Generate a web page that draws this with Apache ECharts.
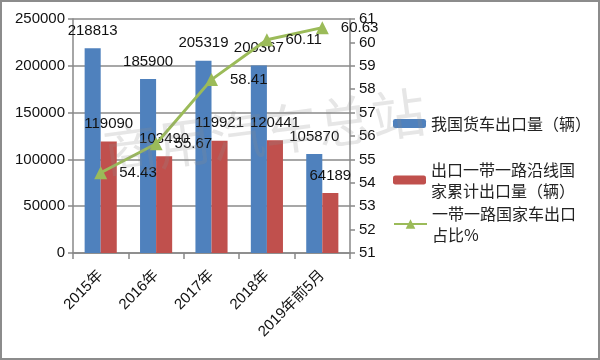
<!DOCTYPE html>
<html><head><meta charset="utf-8">
<script src="https://cdn.jsdelivr.net/npm/echarts@6/dist/echarts.min.js"></script>
<style>html,body{margin:0;padding:0;background:#fff}#c{width:600px;height:360px}</style>
</head><body><div id="c"></div>
<script>
const categories = ['2015年','2016年','2017年','2018年','2019年前5月'];
const truckExports = [218813,185900,205319,200367,105870];
const beltRoadExports = [119090,103490,119921,120441,64189];
const beltRoadShare = [54.43,55.67,58.41,60.11,60.63];
const leftTicks = {min:0,max:250000,interval:50000};
const rightTicks = {min:51,max:61,interval:1};
const names = ['我国货车出口量（辆）','出口一带一路沿线国家累计出口量（辆）','一带一路国家车出口占比%'];

const FONT = 'Liberation Sans, Noto Sans CJK SC, sans-serif';
const CJK = 'Noto Sans CJK SC, sans-serif';
const chart = echarts.init(document.getElementById('c'));
const legendBase = {orient:'vertical',left:393,padding:0,itemWidth:33,itemHeight:9,selectedMode:false,
  textStyle:{fontFamily:CJK,fontSize:16,color:'#222',lineHeight:21}};
chart.setOption({
  animation:false,
  backgroundColor:'#fff',
  graphic:[
    {type:'rect',shape:{x:1,y:1,width:598,height:358},style:{fill:'none',stroke:'#8c8c8c',lineWidth:2},z:100},
    {type:'text',x:100,y:126,rotation:0.13,style:{text:'商用汽车总站',font:'54px Noto Sans CJK SC',fill:'rgba(140,140,140,0.22)',textVerticalAlign:'top'},z:100}
  ],
  legend:[
    Object.assign({},legendBase,{top:113,data:[names[0]],formatter:()=> '我国货车出口量（辆）'}),
    Object.assign({},legendBase,{top:159,data:[names[1]],formatter:()=> '出口一带一路沿线国\n家累计出口量（辆）'}),
    Object.assign({},legendBase,{top:203,data:[names[2]],itemHeight:12,formatter:()=> '一带一路国家车出口\n占比%'})
  ],
  grid:{left:73,right:250,top:19,bottom:107},
  xAxis:{type:'category',data:categories,
    axisLine:{lineStyle:{color:'#888',width:1.5}},
    axisTick:{show:true,length:6,lineStyle:{color:'#888',width:1.5}},
    axisLabel:{rotate:45,fontFamily:FONT,fontSize:15,color:'#111',margin:20}},
  yAxis:[
    {type:'value',min:leftTicks.min,max:leftTicks.max,interval:leftTicks.interval,
      axisLine:{show:true,lineStyle:{color:'#888',width:1.5}},
      axisTick:{show:true,length:5,lineStyle:{color:'#888',width:1.5}},
      splitLine:{lineStyle:{color:'#8a8a8a',width:1.5}},
      axisLabel:{fontFamily:FONT,fontSize:15,color:'#111',margin:8,formatter:v=>String(v)}},
    {type:'value',min:rightTicks.min,max:rightTicks.max,interval:rightTicks.interval,position:'right',
      axisLine:{show:true,lineStyle:{color:'#888',width:1.5}},
      axisTick:{show:true,length:5,lineStyle:{color:'#888',width:1.5}},
      splitLine:{show:false},
      axisLabel:{fontFamily:FONT,fontSize:15,color:'#111',margin:9}}
  ],
  series:[
    {name:names[0],type:'bar',data:truckExports,barGap:'0%',barCategoryGap:'42%',
      itemStyle:{color:'#4F81BD'},
      label:{show:true,position:'top',distance:10,fontFamily:FONT,fontSize:15,color:'#111'}},
    {name:names[1],type:'bar',data:beltRoadExports,
      itemStyle:{color:'#C0504D'},
      label:{show:true,position:'top',distance:10,fontFamily:FONT,fontSize:15,color:'#111'}},
    {name:names[2],type:'line',yAxisIndex:1,data:beltRoadShare,
      symbol:'triangle',symbolSize:13,
      lineStyle:{color:'#9BBB59',width:3},itemStyle:{color:'#9BBB59'},
      label:{show:true,position:'right',distance:12,fontFamily:FONT,fontSize:15,color:'#111'}}
  ]
});
</script></body></html>
